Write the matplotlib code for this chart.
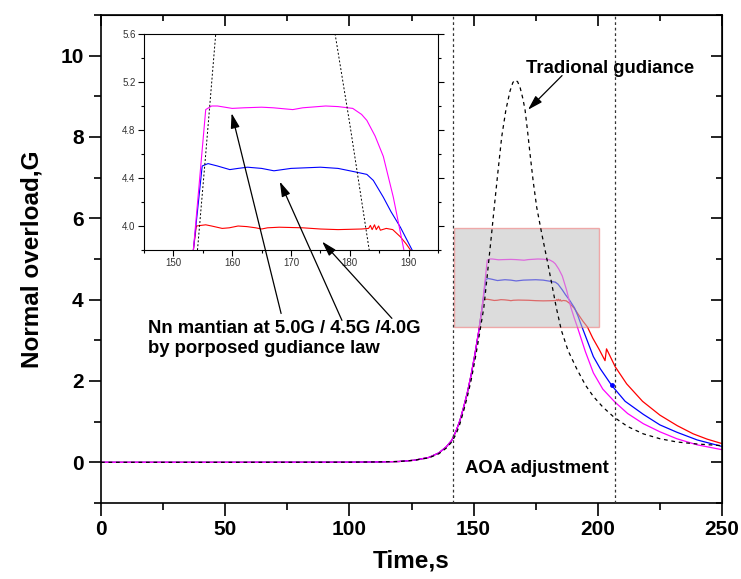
import numpy as np
import matplotlib
matplotlib.use("Agg")
import matplotlib.pyplot as plt
from matplotlib.ticker import MultipleLocator
from matplotlib.patches import Rectangle

plt.rcParams['font.family'] = ['Liberation Sans', 'DejaVu Sans']

# shared climb (all three proposed-law curves)
rise_t = [0, 50, 100, 112, 120, 126, 132, 136, 139, 141.2, 143, 144.5, 146, 147.5, 149, 150.5, 152, 153.4]
rise_g = [0, 0, 0.003, 0.01, 0.02, 0.05, 0.12, 0.23, 0.38, 0.54, 0.78, 1.03, 1.36, 1.72, 2.15, 2.65, 3.2, 3.8]

red_t = [153.9, 155.5, 156.5, 158.3, 159.5, 161, 162.5, 164, 165, 166, 168, 172, 175, 178, 182, 183.2,
         183.5, 183.8, 184.2, 184.5, 184.9, 185.2, 186.2, 187.3, 188.6, 189.6, 190.6, 192, 194, 195.8,
         198, 200.5, 202.9, 203.5, 207, 211.6, 218, 225, 232, 238.4, 244, 250]
red_g = [4.0, 4.01, 4.0, 3.98, 3.985, 4.0, 3.995, 3.985, 3.975, 3.985, 3.99, 3.985, 3.975, 3.97, 3.975, 3.98,
         4.005, 3.97, 4.01, 3.97, 4.0, 3.965, 3.98, 3.97, 3.91, 3.85, 3.78, 3.65, 3.47, 3.33,
         3.05, 2.78, 2.5, 2.79, 2.35, 1.93, 1.5, 1.16, 0.9, 0.70, 0.57, 0.46]

blue_t = [154.9, 155.9, 157.5, 159.6, 161, 162.6, 165, 167.1, 170, 175, 178, 181, 182.9, 184, 185.7, 187,
          188.6, 190.6, 192, 193.5, 196, 198.2, 201, 205.6, 211, 218.3, 225, 231.8, 240, 250]
blue_g = [4.5, 4.52, 4.5, 4.47, 4.48, 4.49, 4.48, 4.46, 4.48, 4.49, 4.48, 4.45, 4.43, 4.38, 4.24, 4.12,
          3.99, 3.8, 3.6, 3.35, 2.95, 2.6, 2.3, 1.89, 1.5, 1.18, 0.92, 0.74, 0.55, 0.39]

mag_t = [155.5, 156.5, 157.5, 160, 162, 165, 167, 170.3, 172, 175.9, 178, 180.5, 182, 182.9, 184.3, 185.7,
         187.4, 189.2, 190.5, 191.8, 195, 198.2, 202, 206.9, 212, 218.3, 225, 231.8, 240, 250]
mag_g = [4.97, 5.0, 5.0, 4.98, 4.985, 4.99, 4.985, 4.97, 4.985, 5.0, 4.995, 4.98, 4.93, 4.88, 4.75, 4.58,
         4.24, 3.8, 3.55, 3.32, 2.72, 2.2, 1.8, 1.48, 1.2, 0.95, 0.75, 0.58, 0.43, 0.31]

# traditional guidance
trad_t = [0, 50, 100, 112, 120, 126, 132, 136, 139, 141.2, 143, 144.5, 146, 147.5, 149, 150.5, 152, 153,
          154.1, 155.5, 157.2, 158.3, 159.8, 161.3, 163, 164.7, 165.8, 166.7, 167.7, 168.7, 169.8, 170.7,
          171.7, 172.7, 174, 175.4, 177.5, 180, 183.3, 185.3, 188, 191.5, 195, 198.2, 202, 206.5, 212,
          218.3, 225, 231.8, 240, 250]
trad_g = [0, 0, 0.003, 0.01, 0.02, 0.05, 0.11, 0.21, 0.35, 0.5, 0.7, 0.95, 1.27, 1.62, 2.02, 2.5, 3.02, 3.4,
          3.8, 4.6, 5.6, 6.27, 7.15, 8.0, 8.67, 9.14, 9.34, 9.40, 9.36, 9.22, 8.95, 8.67,
          8.15, 7.59, 6.9, 6.27, 5.6, 4.85, 3.8, 3.25, 2.75, 2.3, 1.9, 1.62, 1.36, 1.11, 0.88,
          0.70, 0.58, 0.50, 0.45, 0.41]

aoa_start, aoa_end = 141.5, 207.0
box_t = (142.2, 200.5)
box_g = (3.32, 5.77)
blue_dot = (205.6, 1.89)

red_x = np.array(rise_t + red_t); red_y = np.array(rise_g + red_g)
blue_x = np.array(rise_t + blue_t); blue_y = np.array(rise_g + blue_g)
mag_x = np.array(rise_t + mag_t); mag_y = np.array(rise_g + mag_g)

fig = plt.figure(figsize=(7.41, 5.79), dpi=100)
ax = fig.add_axes([0.1363, 0.1313, 0.8381, 0.8428])

for x, y, c in [(red_x, red_y, 'red'), (blue_x, blue_y, 'blue'), (mag_x, mag_y, 'magenta')]:
    ax.plot(x, y, color=c, lw=0.9, zorder=2)
ax.plot(*blue_dot, 'o', color='blue', ms=2.5, zorder=2)

ax.add_patch(Rectangle((box_t[0], box_g[0]), box_t[1] - box_t[0], box_g[1] - box_g[0],
                       facecolor='#c0c0c0', edgecolor='#f07070', lw=1.0, alpha=0.55, zorder=3))
ax.plot(trad_t, trad_g, color='black', lw=0.9, dashes=(3, 3), zorder=4)
for v in (aoa_start, aoa_end):
    ax.axvline(v, color='#333333', lw=0.9, dashes=(2.2, 2.2), zorder=4)

ax.set_xlim(0, 250)
ax.set_ylim(-1, 11)
ax.xaxis.set_major_locator(MultipleLocator(50))
ax.xaxis.set_minor_locator(MultipleLocator(25))
ax.yaxis.set_major_locator(MultipleLocator(2))
ax.yaxis.set_minor_locator(MultipleLocator(1))
ax.tick_params(which='major', direction='out', length=9, width=1.2, labelsize=15)
ax.tick_params(which='minor', direction='out', length=5, width=1.2)
for lab in ax.get_xticklabels() + ax.get_yticklabels():
    lab.set_fontweight('bold')
for s in ax.spines.values():
    s.set_linewidth(1.2)

secx = ax.secondary_xaxis('top')
secx.xaxis.set_major_locator(MultipleLocator(50))
secx.xaxis.set_minor_locator(MultipleLocator(25))
secx.tick_params(which='major', direction='in', length=8, width=1.2, labeltop=False)
secx.tick_params(which='minor', direction='in', length=4, width=1.2)
secy = ax.secondary_yaxis('right')
secy.yaxis.set_major_locator(MultipleLocator(2))
secy.yaxis.set_minor_locator(MultipleLocator(1))
secy.tick_params(which='major', direction='in', length=8, width=1.2, labelright=False)
secy.tick_params(which='minor', direction='in', length=4, width=1.2)

ax.set_xlabel('Time,s', fontsize=17.5, fontweight='bold', labelpad=7)
ax.set_ylabel('Normal overload,G', fontsize=17.5, fontweight='bold', labelpad=12)

ax.text(204.9, 9.68, 'Tradional gudiance', fontsize=13.3, fontweight='bold', ha='center', va='center')
ax.annotate('', xy=(171.9, 8.67), xytext=(185.6, 9.51),
            arrowprops=dict(arrowstyle='-|>,head_length=0.6,head_width=0.18', color='black', lw=0.9,
                            mutation_scale=15, shrinkA=0, shrinkB=0))
ax.text(175.3, -0.15, 'AOA adjustment', fontsize=13.3, fontweight='bold', ha='center', va='center')
ax.text(18.9, 3.29, 'Nn mantian at 5.0G / 4.5G /4.0G', fontsize=13.3, fontweight='bold', ha='left', va='center')
ax.text(18.9, 2.80, 'by porposed gudiance law', fontsize=13.3, fontweight='bold', ha='left', va='center')

# inset zoom of the plateau
ins = fig.add_axes([0.1943, 0.5682, 0.3968, 0.3731])
ins.set_facecolor('white')
for x, y, c in [(red_x, red_y, 'red'), (blue_x, blue_y, 'blue'), (mag_x, mag_y, 'magenta')]:
    ins.plot(x, y, color=c, lw=0.8)
ins.plot(trad_t, trad_g, color='black', lw=0.7, dashes=(2, 2))
ins.set_xlim(145, 195)
ins.set_ylim(3.8, 5.6)
ins.xaxis.set_major_locator(MultipleLocator(10))
ins.xaxis.set_minor_locator(MultipleLocator(5))
ins.yaxis.set_major_locator(MultipleLocator(0.4))
ins.yaxis.set_minor_locator(MultipleLocator(0.2))
ins.yaxis.set_major_formatter(matplotlib.ticker.FormatStrFormatter('%.1f'))
ins.tick_params(which='major', direction='out', length=4, width=0.8, labelsize=7, labelcolor='#333333', pad=2)
ins.tick_params(which='minor', direction='out', length=2, width=0.8)
ins.tick_params(axis='y', which='both', right=True)
for s in ins.spines.values():
    s.set_linewidth(0.8)

tips = [(159.9, 4.94), (168.1, 4.37), (175.3, 3.87)]
tails = [(72.5, 3.66), (97.0, 3.49), (117.1, 3.54)]
for tip, tail in zip(tips, tails):
    ins.annotate('', xy=tip, xycoords='data', xytext=tail, textcoords=ax.transData,
                 annotation_clip=False,
                 arrowprops=dict(arrowstyle='-|>,head_length=0.6,head_width=0.18', color='black', lw=0.9,
                                 mutation_scale=15, shrinkA=0, shrinkB=0))

fig.savefig('out.png', dpi=100)
